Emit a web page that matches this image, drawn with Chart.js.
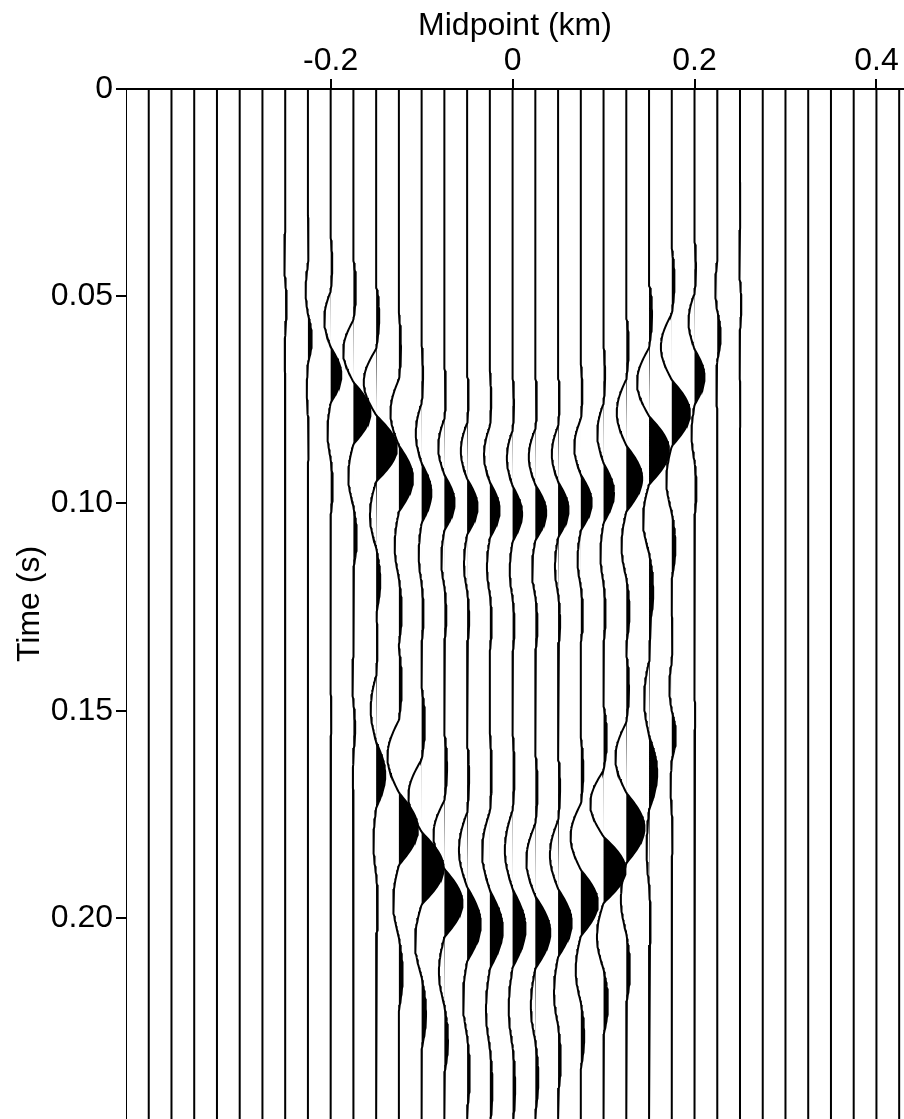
<!DOCTYPE html>
<html lang="en">
<head>
  <meta charset="UTF-8" />
  <title>Midpoint gather</title>
  <script src="https://cdn.jsdelivr.net/npm/chart.js"></script>
  <style>
    html, body { margin: 0; padding: 0; background: #fff; }
  </style>
</head>
<body>
  <canvas id="gather" width="904" height="1119"></canvas>

  <script>
    // trace positions (km)
    const midpoints = [
      -0.425, -0.4, -0.375, -0.35, -0.325, -0.3, -0.275, -0.25, -0.225, -0.2, -0.175, -0.15,
      -0.125, -0.1, -0.075, -0.05, -0.025, 0, 0.025, 0.05, 0.075, 0.1, 0.125, 0.15,
      0.175, 0.2, 0.225, 0.25, 0.275, 0.3, 0.325, 0.35, 0.375, 0.4, 0.425
    ];
    const midpointTicks = [-0.2, 0, 0.2, 0.4];
    const timeTicks = [0, 0.05, 0.10, 0.15, 0.20];

    // upper event: peak time (s), peak amplitude (trace spacings), lobe width (ms)
    const upperTime = [
      0.030, 0.033, 0.036, 0.039, 0.042, 0.045, 0.048, 0.052, 0.0603, 0.069, 0.0782, 0.0867,
      0.094, 0.0975, 0.0998, 0.1008, 0.1016, 0.1025, 0.1022, 0.1015, 0.0998, 0.0975, 0.094, 0.0872,
      0.0782, 0.0695, 0.0595, 0.052, 0.048, 0.045, 0.042, 0.039, 0.036, 0.033, 0.030
    ];
    const upperAmp = [
      0, 0, 0, 0, 0, 0, 0, 0.07, 0.17, 0.47, 0.75, 0.91,
      0.62, 0.43, 0.45, 0.46, 0.43, 0.42, 0.48, 0.46, 0.48, 0.46, 0.70, 0.88,
      0.80, 0.44, 0.15, 0.06, 0, 0, 0, 0, 0, 0, 0
    ];
    const upperWidth = [
      13.5, 13.5, 13.5, 13.5, 13.5, 13.5, 13.5, 12, 12, 13.5, 15, 16,
      16, 14.5, 13.5, 13.5, 13.5, 13.5, 13.5, 13.5, 13.5, 14.5, 16, 16.5,
      16, 13.5, 12, 12, 13.5, 13.5, 13.5, 13.5, 13.5, 13.5, 13.5
    ];

    // lower event
    const lowerTime = [
      0.100, 0.110, 0.120, 0.125, 0.130, 0.135, 0.140, 0.145, 0.148, 0.151, 0.154, 0.1655,
      0.1785, 0.188, 0.1964, 0.2015, 0.2028, 0.2025, 0.2035, 0.2012, 0.1964, 0.1884, 0.1783, 0.165,
      0.156, 0.151, 0.148, 0.145, 0.140, 0.135, 0.130, 0.125, 0.120, 0.110, 0.100
    ];
    const lowerAmp = [
      0, 0, 0, 0, 0, 0, 0, 0, 0, 0.03, 0.08, 0.40,
      0.84, 0.97, 0.80, 0.60, 0.57, 0.57, 0.66, 0.60, 0.75, 0.97, 0.80, 0.36,
      0.18, 0.03, 0, 0, 0, 0, 0, 0, 0, 0, 0
    ];
    const lowerWidth = [
      16, 16, 16, 16, 16, 16, 16, 16, 16, 14, 12, 16,
      17.5, 17.5, 16.5, 18, 19, 19, 17.5, 16.5, 16, 16, 17, 18,
      12, 14, 16, 16, 16, 16, 16, 16, 16, 16, 16
    ];

    // wavelet lobes around the peak: precursor, lead trough, peak, trail trough, tail
    const waveletLobes = [0.15, -0.6, 1, -0.3, 0.2];
    // half-lobe profile from lobe centre to zero crossing
    const lobeProfile = [1, 0.988, 0.951, 0.891, 0.809, 0.707, 0.588, 0.454, 0.309, 0.156, 0];

    const gain = 0.025;      // km per amplitude unit
    const dt = 0.0005;       // trace sample step (s)
    const nSamples = 501;

    function lobe(p) {
      const f = Math.abs(p) / 0.5 * (lobeProfile.length - 1);
      const i = Math.floor(f);
      if (i >= lobeProfile.length - 1) return 0;
      return lobeProfile[i] + (lobeProfile[i + 1] - lobeProfile[i]) * (f - i);
    }

    function wavelet(offset, width) {
      const u = offset / width;
      const k = Math.round(u);
      if (k < -2 || k > 2) return 0;
      return waveletLobes[k + 2] * lobe(u - k);
    }

    function traceValue(i, t) {
      let v = 0;
      if (upperAmp[i]) v += upperAmp[i] * wavelet(t - upperTime[i], upperWidth[i] / 1000);
      if (lowerAmp[i]) v += lowerAmp[i] * wavelet(t - lowerTime[i], lowerWidth[i] / 1000);
      return v;
    }

    const datasets = [];
    midpoints.forEach((mid, i) => {
      const wiggle = [];
      const positive = [];
      for (let k = 0; k < nSamples; k++) {
        const t = k * dt;
        const v = traceValue(i, t);
        wiggle.push({ x: mid + gain * v, y: t });
        positive.push({ x: mid + gain * Math.max(v, 0), y: t });
      }
      datasets.push({
        data: positive,
        borderWidth: 0,
        borderColor: 'rgba(0,0,0,0)',
        backgroundColor: '#000',
        fill: { value: mid },
        pointRadius: 0
      });
      datasets.push({
        data: wiggle,
        borderWidth: 2,
        borderColor: '#000',
        fill: false,
        pointRadius: 0
      });
    });

    const font = { family: "'Liberation Sans', Arial, sans-serif", size: 32, lineHeight: 1.1 };
    const noPadding = s => { s.paddingTop = 0; s.paddingBottom = 0; s.paddingLeft = 0; s.paddingRight = 0; };

    new Chart(document.getElementById('gather'), {
      type: 'line',
      data: { datasets },
      options: {
        indexAxis: 'y',
        responsive: false,
        animation: false,
        parsing: false,
        normalized: true,
        layout: { padding: 0 },
        elements: { line: { tension: 0 }, point: { radius: 0 } },
        plugins: { legend: { display: false }, tooltip: { enabled: false } },
        scales: {
          x: {
            type: 'linear',
            position: 'top',
            min: -0.425,
            max: 0.4303,
            afterBuildTicks: s => { s.ticks = midpointTicks.map(v => ({ value: v })); },
            afterFit: s => { s.height = 89; noPadding(s); },
            grid: { drawOnChartArea: false, drawTicks: true, tickLength: 10, color: '#000', lineWidth: 2 },
            border: { display: true, color: '#000', width: 2 },
            ticks: {
              color: '#000', font, padding: 0, maxRotation: 0, autoSkip: false,
              callback: v => v === 0 ? '0' : v.toFixed(1)
            },
            title: {
              display: true, text: 'Midpoint (km)', color: '#000',
              font: { family: font.family, size: 32, lineHeight: 1.2 },
              padding: { top: 7, bottom: 0 }
            }
          },
          y: {
            type: 'linear',
            reverse: true,
            min: 0,
            max: 0.2485,
            afterBuildTicks: s => { s.ticks = timeTicks.map(v => ({ value: v })); },
            afterFit: s => { s.width = 126; noPadding(s); },
            grid: { drawOnChartArea: false, drawTicks: true, tickLength: 10, color: '#000', lineWidth: 2 },
            border: { display: false },
            ticks: {
              color: '#000', font, padding: 3, autoSkip: false,
              callback: v => v === 0 ? '0' : v.toFixed(2)
            },
            title: {
              display: true, text: 'Time (s)', color: '#000',
              font: { family: font.family, size: 32, lineHeight: 1.2 },
              padding: { top: 11, bottom: 0 }
            }
          }
        }
      }
    });
  </script>
</body>
</html>
